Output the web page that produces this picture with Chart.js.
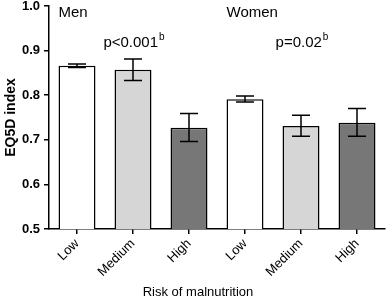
<!DOCTYPE html>
<html>
<head>
<meta charset="utf-8">
<script src="https://cdn.jsdelivr.net/npm/chart.js@4/dist/chart.umd.min.js"></script>
<style>
html,body{margin:0;padding:0;background:#fff;}
#wrap{width:388px;height:300px;position:relative;}
</style>
</head>
<body>
<div id="wrap"><canvas id="c" width="388" height="300"></canvas></div>
<script>
const categories = ["Low", "Medium", "High", "Low", "Medium", "High"];
const eq5dMean = [0.866, 0.857, 0.727, 0.791, 0.731, 0.738];
const errLow  = [0.862, 0.833, 0.696, 0.785, 0.708, 0.708];
const errHigh = [0.870, 0.881, 0.759, 0.798, 0.755, 0.770];
const barColors = ["#ffffff", "#d6d6d6", "#777777", "#ffffff", "#d6d6d6", "#777777"];
const yTicks = [0.5, 0.6, 0.7, 0.8, 0.9, 1.0];
const groupLabels = [{text: "Men", index: 0}, {text: "Women", index: 3}];
const pLabels = [{text: "p<0.001", sup: "b", index: 1}, {text: "p=0.02", sup: "b", index: 4}];
const xTitle = "Risk of malnutrition";
const yTitle = "EQ5D index";

const FONT = "'Liberation Sans', Arial, sans-serif";

const errorBarPlugin = {
  id: 'errorBars',
  afterDatasetsDraw(chart) {
    const ctx = chart.ctx;
    const x = chart.scales.x, y = chart.scales.y;
    ctx.save();
    ctx.strokeStyle = '#000';
    ctx.lineWidth = 1.5;
    const cap = 9;
    for (let i = 0; i < categories.length; i++) {
      const cx = x.getPixelForValue(i);
      const yl = y.getPixelForValue(errLow[i]);
      const yh = y.getPixelForValue(errHigh[i]);
      ctx.beginPath();
      ctx.moveTo(cx, yl); ctx.lineTo(cx, yh);
      ctx.moveTo(cx - cap, yl); ctx.lineTo(cx + cap, yl);
      ctx.moveTo(cx - cap, yh); ctx.lineTo(cx + cap, yh);
      ctx.stroke();
    }
    ctx.fillStyle = '#000';
    ctx.textBaseline = 'alphabetic';
    const meta = chart.getDatasetMeta(0);
    groupLabels.forEach(g => {
      const bar = meta.data[g.index];
      const left = bar.x - bar.width / 2;
      ctx.font = "15px " + FONT;
      ctx.textAlign = 'left';
      ctx.fillText(g.text, left, chart.chartArea.top + 11);
    });
    pLabels.forEach(p => {
      const cx = x.getPixelForValue(p.index);
      ctx.font = "15px " + FONT;
      const w1 = ctx.measureText(p.text).width;
      ctx.font = "10px " + FONT;
      const w2 = ctx.measureText(p.sup).width;
      const start = cx - (w1 + w2 + 1) / 2 + 1;
      const by = y.getPixelForValue(0.907);
      ctx.textAlign = 'left';
      ctx.font = "15px " + FONT;
      ctx.fillText(p.text, start, by);
      ctx.font = "10px " + FONT;
      ctx.fillText(p.sup, start + w1 + 1, by - 7);
    });
    ctx.font = "13px " + FONT;
    ctx.textAlign = 'center';
    ctx.textBaseline = 'alphabetic';
    ctx.fillText(xTitle, chart.width / 2 + 4, chart.height - 4);
    ctx.save();
    ctx.translate(15, (chart.chartArea.top + chart.chartArea.bottom) / 2);
    ctx.rotate(-Math.PI / 2);
    ctx.font = "bold 14px " + FONT;
    ctx.fillText(yTitle, 0, 0);
    ctx.restore();
    ctx.restore();
  }
};

new Chart(document.getElementById('c'), {
  type: 'bar',
  data: {
    labels: categories,
    datasets: [{
      data: eq5dMean,
      backgroundColor: barColors,
      borderColor: '#000',
      borderWidth: 1.5,
      categoryPercentage: 1,
      barPercentage: 0.66
    }]
  },
  options: {
    responsive: false,
    animation: false,
    devicePixelRatio: 1,
    layout: {padding: {top: 0, right: 3, left: 0, bottom: 0}},
    plugins: {legend: {display: false}, tooltip: {enabled: false}},
    scales: {
      y: {
        min: 0.5, max: 1.0,
        afterBuildTicks(s) { s.ticks = yTicks.map(v => ({value: v})); },
        afterFit(s) { s.width = 49; s.paddingTop = 6; },
        ticks: {
          color: '#000',
          font: {family: FONT, size: 13, weight: 'bold', lineHeight: 1.0},
          padding: 4,
          callback: v => Number(v).toFixed(1)
        },
        grid: {drawOnChartArea: false, drawTicks: true, tickLength: 5, color: '#000', lineWidth: 1.5},
        border: {color: '#000', width: 1.5}
      },
      x: {
        offset: true,
        afterFit(s) { s.height = 71; },
        ticks: {
          color: '#000',
          font: {family: FONT, size: 13},
          maxRotation: 45, minRotation: 45,
          padding: 2
        },
        grid: {offset: false, drawOnChartArea: false, drawTicks: true, tickLength: 5, color: '#000', lineWidth: 1.5},
        border: {color: '#000', width: 1.5}
      }
    }
  },
  plugins: [errorBarPlugin]
});
</script>
</body>
</html>
